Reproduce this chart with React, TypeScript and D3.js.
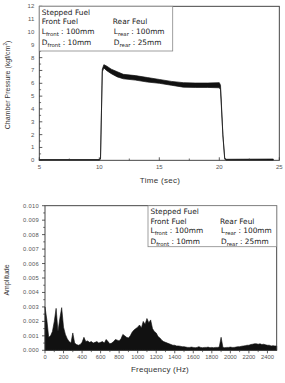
import React from 'react';
import * as d3 from 'd3';

// chamber pressure trace, upper/lower edge of the noisy band
const timeSec = [5, 10.0, 10.1, 10.25, 10.38, 10.6, 11.0, 11.5, 12, 13, 14, 15, 16, 17, 18, 19, 20, 20.1, 20.3, 20.45, 20.55, 24.5];
const pressureLow = [0, 0, 0.1, 6.9, 7.2, 7.0, 6.75, 6.5, 6.35, 6.25, 6.1, 6.0, 5.85, 5.7, 5.68, 5.68, 5.65, 5.5, 1.9, 0.1, 0, 0];
const pressureHigh = [0.06, 0.06, 0.2, 7.1, 7.45, 7.35, 7.1, 6.9, 6.7, 6.6, 6.45, 6.3, 6.15, 6.05, 6.02, 6.02, 6.05, 5.85, 2.0, 0.2, 0.08, 0.1];
const timeTicks = [5, 10, 15, 20, 25];
const pressureTicks = [0, 1, 2, 3, 4, 5, 6, 7, 8, 9, 10, 11, 12];

// FFT amplitude envelope (x0.001), every 20 Hz from 0 to 2500
const amplitude = [
  3.0, 2.1, 0.9, 1.0, 1.3, 2.0, 2.9, 1.3, 2.2, 2.95,
  1.6, 1.1, 0.8, 0.6, 0.5, 1.2, 0.5, 0.4, 0.35, 0.4,
  0.55, 0.9, 0.6, 0.65, 0.55, 0.6, 0.5, 0.55, 0.6, 0.5,
  0.55, 0.6, 0.5, 0.75, 0.6, 0.45, 0.5, 0.6, 0.75, 0.7,
  0.65, 0.8, 1.1, 1.0, 0.9, 0.85, 1.0, 1.25, 1.4, 1.5,
  1.6, 1.75, 1.55, 2.0, 1.8, 2.2, 1.9, 2.1, 1.5, 1.3,
  1.2, 0.95, 0.85, 0.7, 0.6, 0.55, 0.5, 0.45, 0.4, 0.35,
  0.35, 0.3, 0.3, 0.28, 0.25, 0.25, 0.22, 0.2, 0.2, 0.22,
  0.2, 0.18, 0.2, 0.25, 0.2, 0.18, 0.2, 0.2, 0.22, 0.18,
  0.2, 0.18, 0.2, 0.2, 0.22, 0.9, 0.2, 0.18, 0.2, 0.2,
  0.22, 0.2, 0.2, 0.22, 0.25, 0.25, 0.28, 0.3, 0.32, 0.35,
  0.35, 0.4, 0.42, 0.45, 0.45, 0.42, 0.45, 0.4, 0.42, 0.38,
  0.35, 0.35, 0.3, 0.32, 0.3, 0.3,
];
const freqStep = 20;
const freqTicks = [0, 200, 400, 600, 800, 1000, 1200, 1400, 1600, 1800, 2000, 2200, 2400];
const ampTicks = [0, 0.001, 0.002, 0.003, 0.004, 0.005, 0.006, 0.007, 0.008, 0.009, 0.01];

const FONT = '"Liberation Sans", Arial, sans-serif';
const LFONT = '"DejaVu Sans", sans-serif';
const AX = '#333';
const TXT = '#555';

function Legend({ x, y, w, h, col2 }: { x: number; y: number; w: number; h: number; col2: number }) {
  const fs = 7.4;
  const sub = (main: string, s: string, rest: string, tx: number, ty: number) => (
    <text x={tx} y={ty} fontSize={fs} fill="#222">
      {main}
      <tspan fontSize={5.4} dy={1.8}>{s}</tspan>
      <tspan dy={-1.8}>{rest}</tspan>
    </text>
  );
  return (
    <g fontFamily={LFONT}>
      <rect x={x} y={y} width={w} height={h} fill="#fff" stroke="#888" strokeWidth={0.8} />
      <text x={x + 2.5} y={y + 8.5} fontSize={fs} fill="#222">Stepped Fuel</text>
      <text x={x + 2.5} y={y + 18} fontSize={fs} fill="#222">Front Fuel</text>
      <text x={x + col2} y={y + 18} fontSize={fs} fill="#222">Rear Feul</text>
      {sub('L', 'front', ' : 100mm', x + 2.5, y + 27.5)}
      {sub('L', 'rear', ' : 100mm', x + col2 + 1, y + 27.5)}
      {sub('D', 'front', ' : 10mm', x + 2.5, y + 38.5)}
      {sub('D', 'rear', ' : 25mm', x + col2 + 1, y + 38.5)}
    </g>
  );
}

function PressureChart() {
  const left = 39.3, right = 279.3, top = 6.3, bottom = 160.3;
  const x = d3.scaleLinear().domain([5, 25]).range([left, right]);
  const y = d3.scaleLinear().domain([0, 12]).range([bottom, top]);
  const band = d3.area<number>()
    .x((_, i) => x(timeSec[i]))
    .y0((_, i) => y(pressureLow[i]))
    .y1((_, i) => y(pressureHigh[i]));
  const minorX = d3.range(5, 25.01, 2.5).filter(v => !timeTicks.includes(v));
  const minorY = d3.range(0.5, 12, 1);
  return (
    <g fontFamily={FONT}>
      <path d={band(timeSec) || ''} fill="#111" stroke="#111" strokeWidth={0.7} />
      <rect x={left} y={top} width={right - left} height={bottom - top} fill="none" stroke={AX} strokeWidth={0.9} />
      {timeTicks.map(t => (
        <g key={t}>
          <line x1={x(t)} x2={x(t)} y1={bottom} y2={bottom - 3} stroke={AX} strokeWidth={0.8} />
          <text x={x(t)} y={bottom + 9} fontSize={6} fill={TXT} textAnchor="middle">{t}</text>
        </g>
      ))}
      {minorX.map(t => (
        <line key={t} x1={x(t)} x2={x(t)} y1={bottom} y2={bottom - 1.8} stroke={AX} strokeWidth={0.7} />
      ))}
      {pressureTicks.map(p => (
        <g key={p}>
          <line x1={left} x2={left + 3} y1={y(p)} y2={y(p)} stroke={AX} strokeWidth={0.8} />
          <text x={left - 5} y={y(p) + 2} fontSize={6} fill={TXT} textAnchor="end">{p}</text>
        </g>
      ))}
      {minorY.map(p => (
        <line key={p} x1={left} x2={left + 1.8} y1={y(p)} y2={y(p)} stroke={AX} strokeWidth={0.7} />
      ))}
      <text x={160} y={183} fontSize={8} letterSpacing={0.3} fill="#333" textAnchor="middle">Time (sec)</text>
      <text transform="translate(10,85) rotate(-90)" fontSize={7} fill="#333" textAnchor="middle">
        Chamber Pressure (kgf/cm<tspan fontSize={4.5} dy={-3}>2</tspan><tspan dy={3}>)</tspan>
      </text>
      <Legend x={left} y={top} w={133.4} h={44.7} col2={73.5} />
    </g>
  );
}

function SpectrumChart() {
  const left = 45, right = 276.7, top = 205.7, bottom = 350.3;
  const x = d3.scaleLinear().domain([0, 2500]).range([left, right]);
  const y = d3.scaleLinear().domain([0, 0.01]).range([bottom, top]);
  const fill = d3.area<number>()
    .x((_, i) => x(i * freqStep))
    .y0(bottom)
    .y1(a => y(a / 1000));
  const minorX = d3.range(100, 2500, 200);
  const minorY = d3.range(0.0005, 0.01, 0.001);
  return (
    <g fontFamily={FONT}>
      <path d={fill(amplitude) || ''} fill="#111" stroke="#111" strokeWidth={0.6} strokeLinejoin="miter" />
      <rect x={left} y={top} width={right - left} height={bottom - top} fill="none" stroke={AX} strokeWidth={0.9} />
      {freqTicks.map(f => (
        <g key={f}>
          <line x1={x(f)} x2={x(f)} y1={bottom} y2={bottom + 3} stroke={AX} strokeWidth={0.8} />
          <text x={x(f)} y={bottom + 9} fontSize={5.8} fill={TXT} textAnchor="middle">{f}</text>
        </g>
      ))}
      {minorX.map(f => (
        <line key={f} x1={x(f)} x2={x(f)} y1={bottom} y2={bottom + 1.8} stroke={AX} strokeWidth={0.7} />
      ))}
      {ampTicks.map(a => (
        <g key={a}>
          <line x1={left} x2={left - 3} y1={y(a)} y2={y(a)} stroke={AX} strokeWidth={0.8} />
          <text x={left - 6} y={y(a) + 2} fontSize={5.8} letterSpacing={0.3} fill={TXT} textAnchor="end">{a.toFixed(3)}</text>
        </g>
      ))}
      {minorY.map(a => (
        <line key={a} x1={left} x2={left - 1.8} y1={y(a)} y2={y(a)} stroke={AX} strokeWidth={0.7} />
      ))}
      <text x={160} y={372} fontSize={8} letterSpacing={0.2} fill="#333" textAnchor="middle">Frequency (Hz)</text>
      <text transform="translate(9,280) rotate(-90)" fontSize={7} fill="#333" textAnchor="middle">Amplitude</text>
      <Legend x={148} y={top} w={128.7} h={41} col2={72} />
    </g>
  );
}

export default function App() {
  return (
    <svg width={285} height={383} style={{ position: 'fixed', left: 0, top: 0, background: '#fff' }}>
      <rect width={285} height={383} fill="#fff" />
      <PressureChart />
      <SpectrumChart />
    </svg>
  );
}
